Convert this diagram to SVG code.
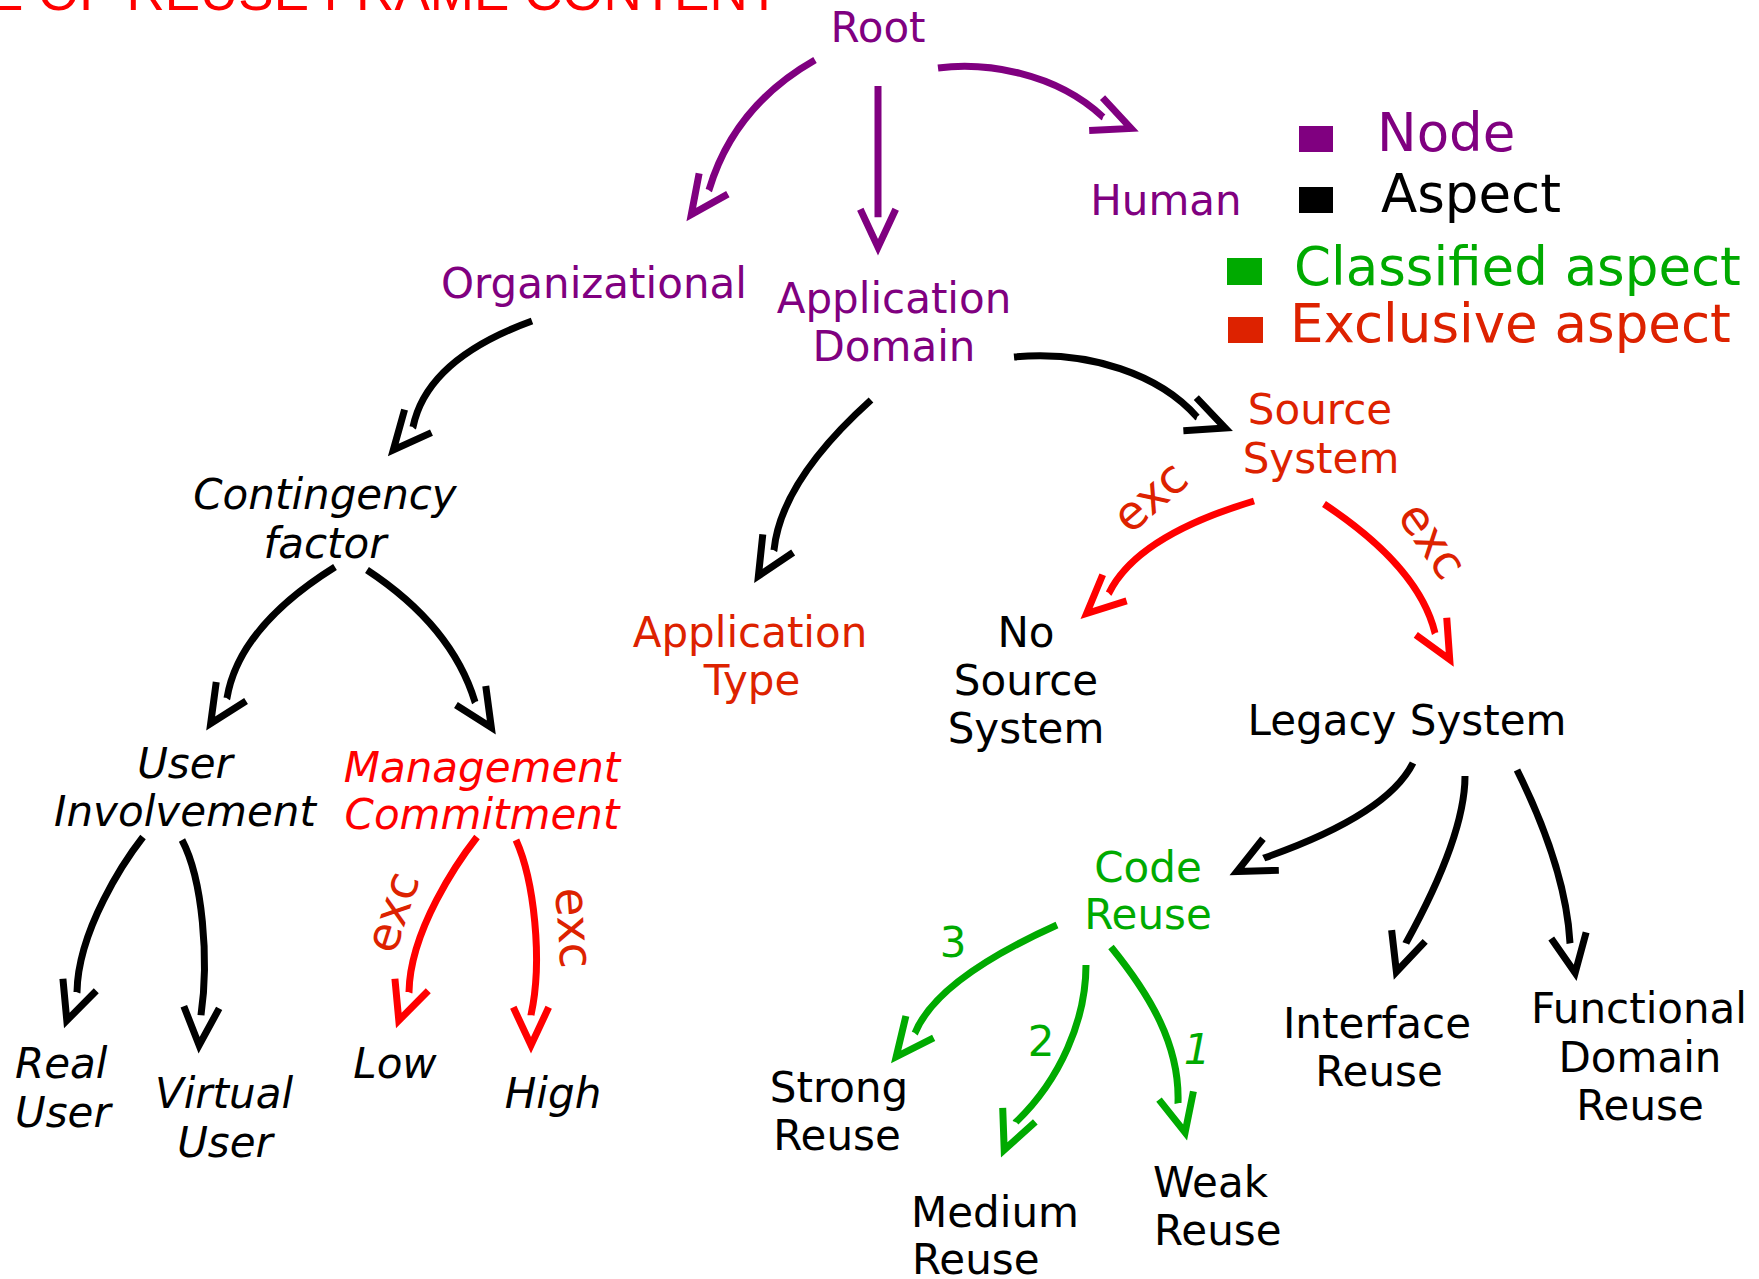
<svg xmlns="http://www.w3.org/2000/svg" width="1759" height="1279" viewBox="0 0 1759 1279">
  <style>
    text { font-family: "DejaVu Sans", Verdana, sans-serif; font-size: 42px; }
    .t { text-anchor: middle; }
    .s { text-anchor: start; }
    .it { font-style: italic; }
    .node { fill: #800080; }
    .asp { fill: #000000; }
    .exc { fill: #DD2200; }
    .lbl { font-size: 47px; }
    .red { fill: #FF0000; }
    .cls { fill: #00AA00; }
    .leg { font-size: 53px; }
    .title { font-family: "Liberation Sans", Arial, sans-serif; font-size: 53px; fill: #FF0000; }
    .c { fill: none; stroke-width: 7; stroke-linecap: butt; }
    .cp { stroke: #800080; marker-end: url(#hp); }
    .ck { stroke: #000000; marker-end: url(#hk); }
    .cr { stroke: #FF0000; marker-end: url(#hr); }
    .cg { stroke: #00AA00; marker-end: url(#hg); }
  </style>
  <defs>
    <linearGradient id="rule" x1="0" y1="0" x2="1" y2="0">
      <stop offset="0" stop-color="#F26B4A"/>
      <stop offset="0.7" stop-color="#F9C3AE"/>
      <stop offset="1" stop-color="#F26B4A"/>
    </linearGradient>
    <!-- open V arrowheads, tip 30px beyond the shaft end -->
    <marker id="hp" markerUnits="userSpaceOnUse" orient="auto" overflow="visible" markerWidth="1" markerHeight="1">
      <path d="M-8,-17.7 L30,0 L-8,17.7" fill="none" stroke="#800080" stroke-width="7" stroke-linejoin="miter"/>
    </marker>
    <marker id="hk" markerUnits="userSpaceOnUse" orient="auto" overflow="visible" markerWidth="1" markerHeight="1">
      <path d="M-8,-17.7 L30,0 L-8,17.7" fill="none" stroke="#000000" stroke-width="7" stroke-linejoin="miter"/>
    </marker>
    <marker id="hr" markerUnits="userSpaceOnUse" orient="auto" overflow="visible" markerWidth="1" markerHeight="1">
      <path d="M-8,-17.7 L30,0 L-8,17.7" fill="none" stroke="#FF0000" stroke-width="7" stroke-linejoin="miter"/>
    </marker>
    <marker id="hg" markerUnits="userSpaceOnUse" orient="auto" overflow="visible" markerWidth="1" markerHeight="1">
      <path d="M-8,-17.7 L30,0 L-8,17.7" fill="none" stroke="#00AA00" stroke-width="7" stroke-linejoin="miter"/>
    </marker>
  </defs>

  <rect width="1759" height="1279" fill="#FFFFFF"/>

  <!-- slide title and rule -->
  <g id="title">
    <text class="title" x="-12" y="10">E OF REUSE FRAME CONTENT</text>
    <line x1="0" y1="31.5" x2="783" y2="31.5" stroke="url(#rule)" stroke-width="2"/>
  </g>

  <!-- connectors -->
  <g id="connectors">
    <path class="c cp" d="M815,60 Q734,106 709,190 l-0.18,0.25"/>
    <path class="c cp" d="M878,86 L878,217 l0,0.3"/>
    <path class="c cp" d="M938,68 C985,62 1055,72 1103,117 l0.27,0.11"/>
    <path class="c ck" d="M532,321 Q427,359 413,427 l-0.18,0.21"/>
    <path class="c ck" d="M871,400 Q781,481 774,550 l-0.15,0.25"/>
    <path class="c ck" d="M1014,357 C1090,350 1160,375 1197,417 l0.28,0.11"/>
    <path class="c ck" d="M335,567 Q239,627 227,698 l-0.16,0.25"/>
    <path class="c ck" d="M367,570 Q452,626 475,702 l0.16,0.25"/>
    <path class="c ck" d="M143,837 C125,860 78,930 77,992 l-0.1,0.28"/>
    <path class="c ck" d="M182,840 C203,880 209,960 201,1015 l-0.02,0.32"/>
    <path class="c cr" d="M477,837 C459,860 410,930 409,992 l-0.1,0.28"/>
    <path class="c cr" d="M516,840 C534,880 543,960 531,1015 l0,0.32"/>
    <path class="c cr" d="M1254,501 Q1137,536 1109,593 l-0.24,0.22"/>
    <path class="c cr" d="M1324,504 Q1419,567 1435,633 l0.15,0.27"/>
    <path class="c ck" d="M1413,763 Q1387,815 1264,858 l-0.24,0.12"/>
    <path class="c ck" d="M1465,776 Q1465,836 1406,943 l-0.1,0.3"/>
    <path class="c ck" d="M1517,770 Q1566,869 1570,943 l0.05,0.29"/>
    <path class="c cg" d="M1057,925 Q937,979 915,1033 l-0.19,0.24"/>
    <path class="c cg" d="M1086,965 C1086,1020 1060,1080 1016,1122 l-0.11,0.26"/>
    <path class="c cg" d="M1111,947 C1150,995 1180,1045 1178,1103 l0.07,0.29"/>

    <!-- connector labels -->
    <text class="t exc lbl" transform="translate(395,913) rotate(-72)" y="13">exc</text>
    <text class="t exc lbl" transform="translate(571,928) rotate(86)" y="13">exc</text>
    <text class="t exc lbl" transform="translate(1152,499) rotate(-41)" y="13">exc</text>
    <text class="t exc lbl" transform="translate(1430,542) rotate(55)" y="13">exc</text>
    <text class="t cls" x="953" y="957">3</text>
    <text class="t cls" x="1041" y="1056">2</text>
    <text class="t cls it" x="1197" y="1064">1</text>
  </g>

  <!-- nodes -->
  <g id="root"><text class="t node" x="878" y="42">Root</text></g>
  <g id="organizational"><text class="t node" x="594" y="298">Organizational</text></g>
  <g id="human"><text class="t node" x="1166" y="215">Human</text></g>
  <g id="application-domain">
    <text class="t node" x="894" y="313">Application</text>
    <text class="t node" x="894" y="361">Domain</text>
  </g>
  <g id="contingency-factor">
    <text class="t asp it" x="325" y="509">Contingency</text>
    <text class="t asp it" x="325" y="558">factor</text>
  </g>
  <g id="user-involvement">
    <text class="t asp it" x="185" y="778">User</text>
    <text class="t asp it" x="185" y="826">Involvement</text>
  </g>
  <g id="management-commitment">
    <text class="t red it" x="482" y="782">Management</text>
    <text class="t red it" x="482" y="829">Commitment</text>
  </g>
  <g id="real-user">
    <text class="s asp it" x="15" y="1078">Real</text>
    <text class="s asp it" x="15" y="1127">User</text>
  </g>
  <g id="virtual-user">
    <text class="t asp it" x="224" y="1108">Virtual</text>
    <text class="t asp it" x="225" y="1157">User</text>
  </g>
  <g id="low"><text class="t asp it" x="395" y="1078">Low</text></g>
  <g id="high"><text class="t asp it" x="553" y="1108">High</text></g>
  <g id="application-type">
    <text class="t exc" x="750" y="647">Application</text>
    <text class="t exc" x="752" y="695">Type</text>
  </g>
  <g id="source-system">
    <text class="t exc" x="1320" y="424">Source</text>
    <text class="t exc" x="1321" y="473">System</text>
  </g>
  <g id="no-source-system">
    <text class="t asp" x="1026" y="647">No</text>
    <text class="t asp" x="1026" y="695">Source</text>
    <text class="t asp" x="1026" y="743">System</text>
  </g>
  <g id="legacy-system"><text class="t asp" x="1407" y="735">Legacy System</text></g>
  <g id="code-reuse">
    <text class="t cls" x="1148" y="882">Code</text>
    <text class="t cls" x="1148" y="929">Reuse</text>
  </g>
  <g id="strong-reuse">
    <text class="t asp" x="839" y="1102">Strong</text>
    <text class="t asp" x="837" y="1150">Reuse</text>
  </g>
  <g id="medium-reuse">
    <text class="s asp" x="911" y="1227">Medium</text>
    <text class="s asp" x="912" y="1274">Reuse</text>
  </g>
  <g id="weak-reuse">
    <text class="s asp" x="1153" y="1197">Weak</text>
    <text class="s asp" x="1154" y="1245">Reuse</text>
  </g>
  <g id="interface-reuse">
    <text class="t asp" x="1377" y="1038">Interface</text>
    <text class="t asp" x="1379" y="1086">Reuse</text>
  </g>
  <g id="functional-domain-reuse">
    <text class="t asp" x="1639" y="1023">Functional</text>
    <text class="t asp" x="1640" y="1072">Domain</text>
    <text class="t asp" x="1640" y="1120">Reuse</text>
  </g>

  <!-- legend -->
  <g id="legend">
    <rect x="1299" y="126" width="34" height="26" fill="#800080"/>
    <text class="s node leg" x="1377" y="151">Node</text>
    <rect x="1299" y="187" width="34" height="26" fill="#000000"/>
    <text class="s asp leg" x="1381" y="212">Aspect</text>
    <rect x="1227" y="258" width="35" height="27" fill="#00AA00"/>
    <text class="s cls leg" x="1294" y="285">Classified aspect</text>
    <rect x="1228" y="317" width="35" height="26" fill="#DD2200"/>
    <text class="s exc leg" x="1290" y="342">Exclusive aspect</text>
  </g>
</svg>
